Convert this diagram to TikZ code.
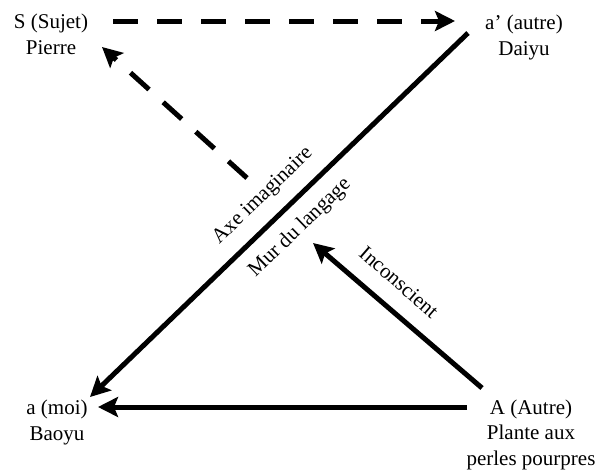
\documentclass[tikz,border=0pt]{standalone}
\usepackage{fontspec}
\setmainfont{Liberation Serif}
\usetikzlibrary{arrows.meta}

\begin{document}
\begin{tikzpicture}[x=1pt, y=-1pt,
    fleche/.style={line width=5pt, -{Stealth[length=20pt, width=20pt, inset=4pt]}},
    tirets/.style={fleche, dash pattern=on 25pt off 19pt},
    etiq/.style={font=\fontsize{21}{25.5}\selectfont, align=center, inner sep=0pt}]
  \useasboundingbox (0, 0) rectangle (604, 471);

  % les quatre places (base = derniere ligne)
  \node[etiq, anchor=base] (sujet) at (51, 54) {S (Sujet)\\Pierre};
  \node[etiq, anchor=base] (autrep) at (524, 55) {a’ (autre)\\Daiyu};
  \node[etiq, anchor=base] (moi) at (57, 440) {a (moi)\\Baoyu};
  \node[etiq, anchor=base] (grandautre) at (531, 465) {A (Autre)\\Plante aux\\perles pourpres};

  % bouts des fleches
  \coordinate (d1) at (113, 21);
  \coordinate (d2) at (455, 21);
  \coordinate (d3) at (247, 178);
  \coordinate (d4) at (102, 47);
  \coordinate (m1) at (468, 33);
  \coordinate (m2) at (90, 397);
  \coordinate (b1) at (467, 407);
  \coordinate (b2) at (98, 407);
  \coordinate (i1) at (482, 388);
  \coordinate (i2) at (313, 243);

  \draw[tirets] (d1) -- (d2);
  \draw[tirets] (d3) -- (d4);
  \draw[fleche] (m1) -- (m2);
  \draw[fleche] (b1) -- (b2);
  \draw[fleche] (i1) -- (i2);

  \node[etiq, rotate=44] (axe) at (263, 196) {Axe imaginaire};
  \node[etiq, rotate=44] (mur) at (300, 228) {Mur du langage};
  \node[etiq, rotate=-41] (incons) at (399, 282) {Inconscient};
\end{tikzpicture}
\end{document}
